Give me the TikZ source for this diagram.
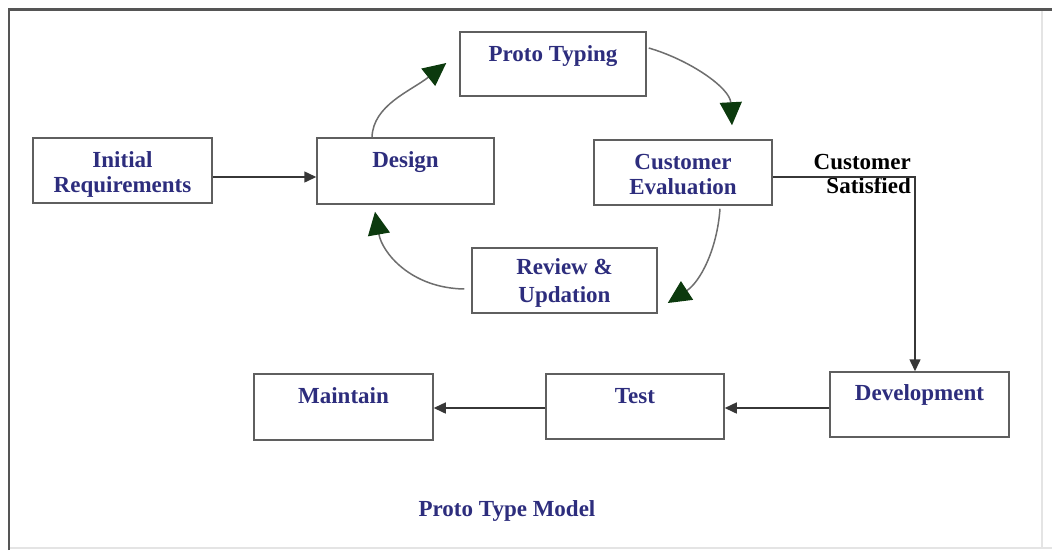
\documentclass[tikz,border=0pt]{standalone}
\usepackage{fontspec}
\setmainfont{Liberation Serif}
\usetikzlibrary{arrows.meta}

\definecolor{navytext}{RGB}{45,45,125}
\definecolor{boxline}{RGB}{95,95,95}
\definecolor{linkline}{RGB}{55,55,55}
\definecolor{curveline}{RGB}{110,110,110}
\definecolor{tipgreen}{RGB}{12,58,14}
\definecolor{framedark}{RGB}{85,85,85}
\definecolor{framelight}{RGB}{228,228,228}

% box content: fixed size, text set from the top
\newcommand{\stagetext}[4][29.5pt]{%
  \parbox[c][#3pt][t]{#2pt}{\centering\rule{0pt}{#1}#4}}

\tikzset{
  stagebox/.style={draw=boxline, line width=1.5pt, inner sep=0pt,
    text=navytext, font=\fontsize{23}{25}\selectfont\bfseries},
  flowarrow/.style={draw=linkline, line width=1.5pt,
    -{Triangle[length=12pt,width=11pt]}},
  looparrow/.style={draw=curveline, line width=1.5pt,
    -{Triangle[length=23pt,width=22pt,fill=tipgreen,color=tipgreen]}},
  sidelabel/.style={inner sep=0pt, align=right, text=black,
    font=\fontsize{23}{24}\selectfont\bfseries},
  caption/.style={inner sep=0pt, text=navytext,
    font=\fontsize{23}{25}\selectfont\bfseries}
}

\begin{document}
\begin{tikzpicture}[x=1pt,y=-1pt]
\useasboundingbox (0,0) rectangle (1052,550);
\fill[white] (0,0) rectangle (1052,550);

% outer frame
\draw[framelight, line width=1.2pt] (9,548) -- (1052,548);
\draw[framelight, line width=1.2pt] (1042,9.5) -- (1042,548);
\draw[framedark, line width=2.2pt] (9,550) -- (9,9.5) -- (1052,9.5);

% stages
\node[stagebox] (ir) at (122.5,170.5) {\stagetext{179}{65}{Initial\\Requirements}};
\node[stagebox] (ds) at (405.5,171)   {\stagetext{177}{66}{Design}};
\node[stagebox] (pt) at (553,64)      {\stagetext{186}{64}{Proto Typing}};
\node[stagebox] (ce) at (683,172.5)   {\stagetext{178}{65}{Customer\\Evaluation}};
\node[stagebox] (rv) at (564.5,280.5) {\stagetext[26.5pt]{185}{65}{Review \&\\[3pt]Updation}};
\node[stagebox] (mt) at (343.5,407)   {\stagetext{179}{66}{Maintain}};
\node[stagebox] (ts) at (635,406.5)   {\stagetext{178}{65}{Test}};
\node[stagebox] (dv) at (919.5,404.5) {\stagetext[28.5pt]{179}{65}{Development}};

% labels
\node[sidelabel, anchor=east] (cs) at (911,174) {Customer\\Satisfied};
\node[caption] (title) at (507,511) {Proto Type Model};

% straight flow
\draw[flowarrow] ([yshift=-6.5pt]ir.east) -- ([yshift=-6.5pt]ir.east -| ds.west);
\draw[flowarrow] ([yshift=-4.5pt]ce.east) -| ([xshift=-4.5pt]dv.north);
\draw[flowarrow] ([yshift=-3.5pt]dv.west) -- ([yshift=-3.5pt]dv.west -| ts.east);
\draw[flowarrow] ([yshift=-1.5pt]ts.west) -- ([yshift=-1.5pt]ts.west -| mt.east);

% prototyping loop
\draw[looparrow] ([xshift=-33.5pt]ds.north)
  .. controls (373,105) and (411,91) .. ([xshift=-13pt,yshift=1pt]pt.west);
\draw[looparrow] ([xshift=2pt,yshift=16pt]pt.east)
  .. controls (690,60) and (730,88) .. ([xshift=49pt,yshift=14pt]ce.north);
\draw[looparrow] ([xshift=37pt,yshift=-3pt]ce.south)
  .. controls (717,250) and (700,282) .. ([xshift=10pt,yshift=-22.5pt]rv.east);
\draw[looparrow] ([xshift=-7pt,yshift=-8.5pt]rv.west)
  .. controls (410,288) and (382,252) .. ([xshift=-30.5pt,yshift=-7pt]ds.south);
\end{tikzpicture}
\end{document}
